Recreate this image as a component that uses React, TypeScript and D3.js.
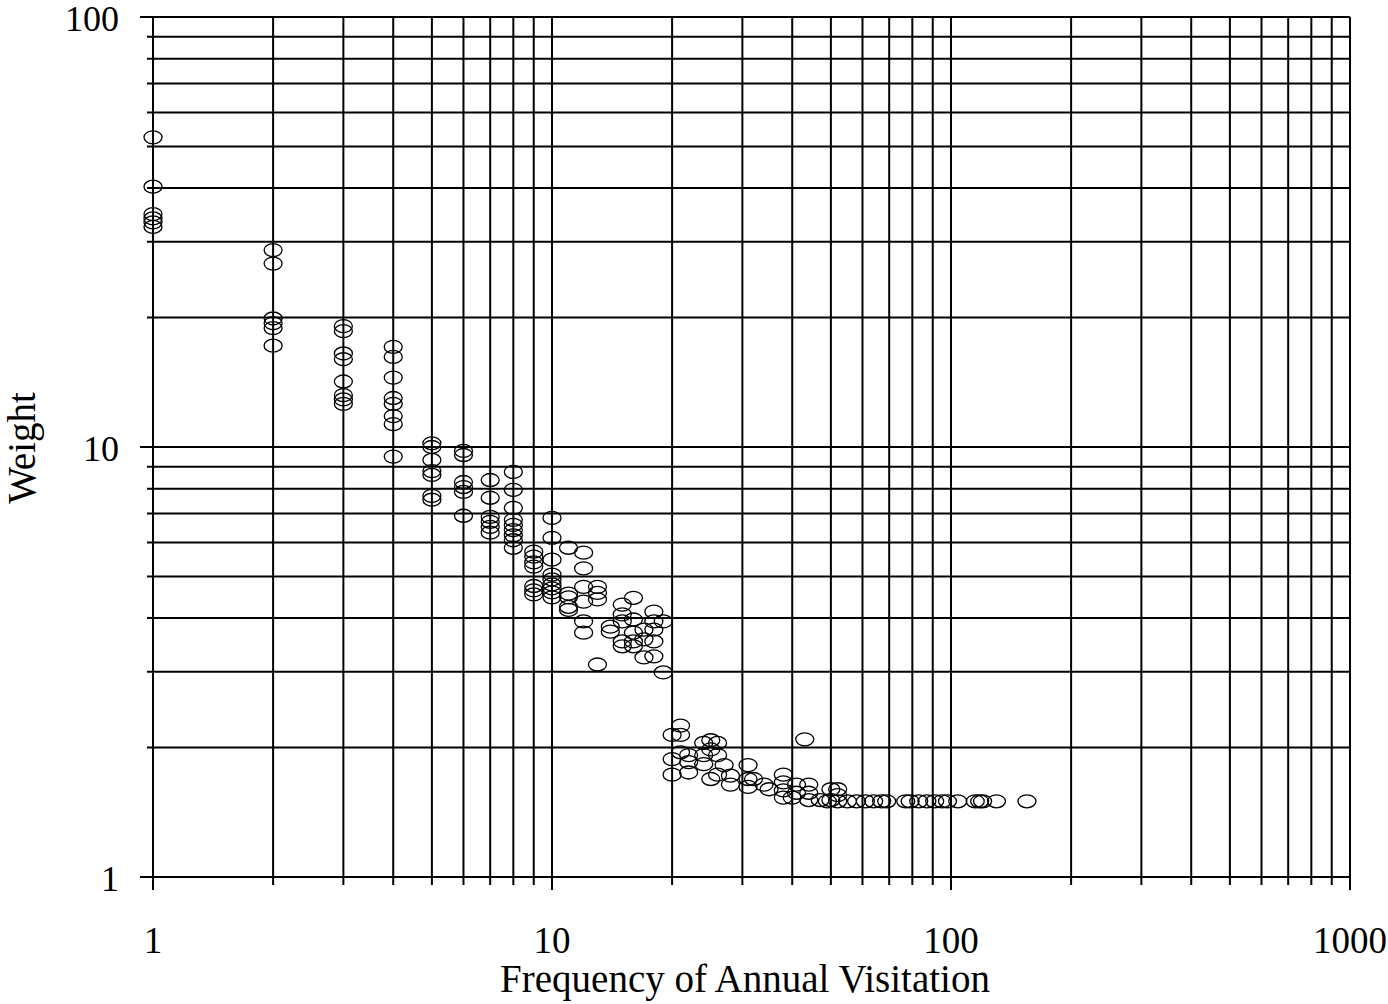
import React from "react";
import * as d3 from "d3";

// Visitation frequency (x) and the weight observed at that frequency (y)
const frequency: number[] = [
  1, 1, 1, 1, 1, 1,
  2, 2, 2, 2, 2, 2,
  3, 3, 3, 3, 3, 3, 3, 3,
  4, 4, 4, 4, 4, 4, 4, 4,
  5, 5, 5, 5, 5, 5, 5,
  6, 6, 6, 6, 6, 6,
  7, 7, 7, 7, 7, 7,
  8, 8, 8, 8, 8, 8, 8, 8, 8,
  9, 9, 9, 9, 9, 9, 9,
  10, 10, 10, 10, 10, 10, 10, 10, 10,
  11, 11, 11, 11, 11,
  12, 12, 12, 12, 12, 12,
  13, 13, 13, 13,
  14, 14,
  15, 15, 15, 15, 15,
  16, 16, 16, 16, 16,
  17, 17, 17,
  18, 18, 18, 18, 18,
  19, 19,
  20, 20, 20,
  21, 21, 21,
  22, 22, 22,
  24, 24, 24,
  25, 25, 25,
  26, 26, 26,
  27,
  28, 28,
  31, 31, 31,
  32,
  34,
  35,
  38, 38, 38, 38,
  40,
  41, 41,
  43,
  44, 44, 44,
  47,
  49,
  50, 50,
  52, 52, 52,
  55, 58, 61, 64, 67, 69, 77, 79, 83, 87, 91, 95, 98, 104, 115, 118, 120, 130, 155,
];

const weight: number[] = [
  52.5, 40.3, 34.8, 34.0, 33.3, 32.5,
  28.7, 26.7, 19.9, 19.4, 18.9, 17.2,
  19.1, 18.6, 16.5, 16.0, 14.2, 13.2, 12.9, 12.6,
  17.1, 16.2, 14.5, 13.0, 12.6, 11.8, 11.3, 9.5,
  10.2, 10.0, 9.33, 8.79, 8.61, 7.70, 7.54,
  9.79, 9.58, 8.29, 8.07, 7.86, 6.92,
  8.38, 7.62, 6.88, 6.70, 6.52, 6.32,
  8.75, 7.95, 7.22, 6.77, 6.59, 6.41, 6.23, 6.07, 5.83,
  5.71, 5.56, 5.39, 5.27, 4.75, 4.64, 4.54,
  6.84, 6.15, 5.47, 5.05, 4.92, 4.79, 4.69, 4.59, 4.47,
  5.83, 4.56, 4.47, 4.25, 4.18,
  5.68, 5.22, 4.73, 4.37, 3.93, 3.70,
  4.73, 4.58, 4.42, 3.12,
  3.82, 3.72,
  4.30, 4.08, 3.93, 3.53, 3.44,
  4.46, 3.97, 3.70, 3.53, 3.44,
  3.76, 3.57, 3.24,
  4.14, 3.93, 3.76, 3.53, 3.26,
  3.93, 2.99,
  2.14, 1.88, 1.73,
  2.25, 2.14, 1.95,
  1.92, 1.85, 1.75,
  2.05, 1.92, 1.83,
  2.08, 1.98, 1.69,
  2.05, 1.92, 1.73,
  1.82,
  1.72, 1.64,
  1.82, 1.69, 1.62,
  1.69,
  1.64,
  1.60,
  1.73, 1.66, 1.59, 1.53,
  1.53,
  1.64, 1.57,
  2.09,
  1.64, 1.57, 1.51,
  1.51,
  1.50,
  1.60, 1.51,
  1.60, 1.55, 1.50,
  1.50, 1.50, 1.50, 1.50, 1.50, 1.50, 1.50, 1.50, 1.50, 1.50, 1.50, 1.50, 1.50, 1.50, 1.50, 1.50, 1.50, 1.50, 1.50,
];

const xTickLabels: number[] = [1, 10, 100, 1000];
const yTickLabels: number[] = [1, 10, 100];

const xTitle = "Frequency of Annual Visitation";
const yTitle = "Weight";

const W = 1388;
const H = 1004;
const FONT = "'Liberation Serif', 'Times New Roman', serif";

export default function App() {
  const x = d3.scaleLog().domain([1, 1000]).range([153, 1350]);
  const y = d3.scaleLog().domain([1, 100]).range([877, 17]);

  const isDecade = (v: number) => Math.abs(Math.log10(v) - Math.round(Math.log10(v))) < 1e-9;

  const xGrid = x.ticks();
  const yGrid = y.ticks();
  const [yBottom, yTop] = [y(1), y(100)];
  const [xLeft, xRight] = [x(1), x(1000)];

  const points = frequency.map((f, i) => ({ f, w: weight[i] }));

  return (
    <svg
      width={W}
      height={H}
      style={{ position: "absolute", left: 0, top: 0, background: "#fff" }}
      fontFamily={FONT}
    >
      <rect x={0} y={0} width={W} height={H} fill="#fff" />
      {/* vertical grid lines with tick stubs below the bottom axis */}
      {xGrid.map((v) => (
        <line
          key={`vx${v}`}
          x1={x(v)}
          x2={x(v)}
          y1={yTop}
          y2={yBottom + (isDecade(v) ? 13 : 8)}
          stroke="#000"
          strokeWidth={2}
        />
      ))}
      {/* horizontal grid lines with tick stubs left of the y axis */}
      {yGrid.map((v) => (
        <line
          key={`hy${v}`}
          x1={xLeft - (isDecade(v) ? 13 : 6)}
          x2={xRight}
          y1={y(v)}
          y2={y(v)}
          stroke="#000"
          strokeWidth={2}
        />
      ))}
      {/* observations */}
      {points.map((p, i) => (
        <ellipse
          key={`p${i}`}
          cx={x(p.f)}
          cy={y(p.w)}
          rx={9}
          ry={6.5}
          fill="none"
          stroke="#000"
          strokeWidth={1.3}
        />
      ))}
      {/* tick labels */}
      {yTickLabels.map((v) => (
        <text key={`yl${v}`} x={119} y={y(v) + 14} fontSize={36} textAnchor="end" fill="#000">
          {v}
        </text>
      ))}
      {xTickLabels.map((v) => (
        <text key={`xl${v}`} x={x(v)} y={953} fontSize={37} textAnchor="middle" fill="#000">
          {v}
        </text>
      ))}
      {/* axis titles */}
      <text x={745} y={992} fontSize={39} textAnchor="middle" fill="#000">
        {xTitle}
      </text>
      <text
        transform={`translate(35, 448) rotate(-90)`}
        fontSize={39}
        textAnchor="middle"
        fill="#000"
      >
        {yTitle}
      </text>
    </svg>
  );
}
